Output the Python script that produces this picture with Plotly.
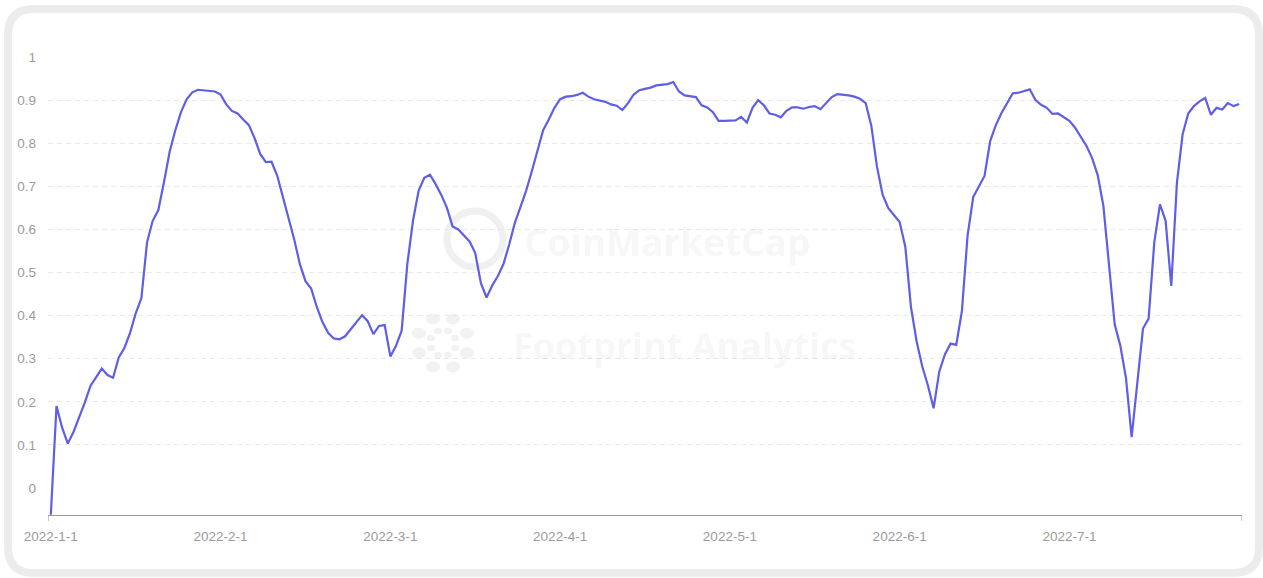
import math
import plotly.graph_objects as go

tick_labels = ["2022-1-1", "2022-2-1", "2022-3-1", "2022-4-1", "2022-5-1", "2022-6-1", "2022-7-1"]

values = [
    -0.062, 0.19, 0.14, 0.103, 0.13, 0.163, 0.198, 0.237, 0.256, 0.277,
    0.262, 0.256, 0.303, 0.325, 0.36, 0.405, 0.44, 0.57, 0.62, 0.645,
    0.71, 0.78, 0.83, 0.872, 0.902, 0.918, 0.924, 0.923, 0.922, 0.92,
    0.913, 0.89, 0.875, 0.869, 0.855, 0.842, 0.812, 0.775, 0.756, 0.757,
    0.725, 0.675, 0.622, 0.577, 0.52, 0.48, 0.463, 0.42, 0.385, 0.36,
    0.347, 0.345, 0.352, 0.368, 0.385, 0.401, 0.387, 0.357, 0.376, 0.378,
    0.305, 0.33, 0.365, 0.52, 0.62, 0.69, 0.72, 0.727, 0.705, 0.68,
    0.65, 0.607, 0.6, 0.587, 0.572, 0.545, 0.475, 0.442, 0.47, 0.492,
    0.52, 0.565, 0.615, 0.652, 0.69, 0.735, 0.78, 0.83, 0.855, 0.882,
    0.902, 0.908, 0.909, 0.912, 0.917, 0.908, 0.902, 0.899, 0.896, 0.89,
    0.887, 0.877, 0.893, 0.913, 0.923, 0.926, 0.929, 0.934, 0.936, 0.937,
    0.942, 0.92, 0.911, 0.909, 0.907, 0.888, 0.883, 0.872, 0.852, 0.852,
    0.853, 0.853, 0.861, 0.848, 0.882, 0.9, 0.888, 0.869, 0.866, 0.86,
    0.875, 0.883, 0.883, 0.88, 0.884, 0.886, 0.879, 0.892, 0.907, 0.914,
    0.913, 0.911, 0.908, 0.903, 0.893, 0.84, 0.745, 0.68, 0.649, 0.634,
    0.617, 0.56, 0.42, 0.34, 0.282, 0.238, 0.185, 0.27, 0.31, 0.335,
    0.332, 0.41, 0.585, 0.675, 0.698, 0.724, 0.805, 0.842, 0.87, 0.893,
    0.916, 0.917, 0.921, 0.925, 0.9, 0.889, 0.882, 0.868, 0.869, 0.86,
    0.852, 0.836, 0.816, 0.794, 0.766, 0.726, 0.655, 0.52, 0.38, 0.33,
    0.255, 0.118, 0.25, 0.37, 0.393, 0.57, 0.658, 0.62, 0.469, 0.708,
    0.82, 0.869, 0.886, 0.897, 0.905, 0.866, 0.882, 0.878, 0.893, 0.886,
    0.891,
]

label_every = 30
n = len(values)
xs = list(range(n))

W, H = 1263, 578
ML, MR, MT, MB = 48, 21, 57, 63
PW, PH = W - ML - MR, H - MT - MB
YMIN, YMAX = -0.0626, 1.0


def px_to_data(px, py):
    xd = -0.5 + (px - ML) / PW * n
    yd = YMAX - (py - MT) / PH * (YMAX - YMIN)
    return xd, yd


def px_to_paper(px, py):
    return (px - ML) / PW, 1 - (py - MT) / PH


fig = go.Figure()
fig.add_trace(go.Scatter(
    x=xs, y=values, mode="lines",
    line=dict(color="#5e5ee6", width=2.2),
    hoverinfo="skip", showlegend=False,
))

shapes = []
# card border (rounded rectangle)
x0, y0, x1, y1, r = 8, 9, 1259, 573, 26
p = lambda a, b: "%f %f" % px_to_paper(a, b)
path = (f"M {p(x0 + r, y0)} L {p(x1 - r, y0)} Q {p(x1, y0)} {p(x1, y0 + r)} "
        f"L {p(x1, y1 - r)} Q {p(x1, y1)} {p(x1 - r, y1)} L {p(x0 + r, y1)} "
        f"Q {p(x0, y1)} {p(x0, y1 - r)} L {p(x0, y0 + r)} Q {p(x0, y0)} {p(x0 + r, y0)} Z")
shapes.append(dict(type="path", xref="paper", yref="paper", path=path,
                   line=dict(color="#ececec", width=8), layer="below"))

# watermark logos
cx, cy = px_to_data(475, 239)
shapes.append(dict(type="circle", xref="x", yref="y", xsizemode="pixel", ysizemode="pixel",
                   xanchor=cx, yanchor=cy, x0=-28, x1=28, y0=-28, y1=28,
                   line=dict(color="#f0f0f0", width=7), layer="below"))
fx, fy = px_to_data(443, 343)
for k in range(8):
    a = k * math.pi / 4 + math.pi / 8
    for dist, rad in ((26, 7), (13, 4)):
        ox, oy = dist * math.cos(a), dist * math.sin(a)
        shapes.append(dict(type="circle", xref="x", yref="y", xsizemode="pixel", ysizemode="pixel",
                           xanchor=fx, yanchor=fy, x0=ox - rad, x1=ox + rad, y0=oy - rad * 0.8, y1=oy + rad * 0.8,
                           fillcolor="#f2f2f2", line=dict(width=0), layer="below"))

# small axis end ticks
for xe in (-0.5, n - 0.5):
    shapes.append(dict(type="line", xref="x", yref="paper", x0=xe, x1=xe, y0=0, y1=-6 / PH,
                       line=dict(color="#9a9a9a", width=1)))

wx, wy = px_to_paper(667, 241)
fx2, fy2 = px_to_paper(684, 345)
annotations = [
    dict(text="<b>CoinMarketCap</b>", x=wx, y=wy, xref="paper", yref="paper", showarrow=False,
         font=dict(family="Open Sans, Lato, sans-serif", size=37, color="rgba(0,0,0,0.055)")),
    dict(text="<b>Footprint Analytics</b>", x=fx2, y=fy2, xref="paper", yref="paper", showarrow=False,
         font=dict(family="Open Sans, Lato, sans-serif", size=36, color="rgba(0,0,0,0.055)")),
]

fig.update_layout(
    width=W, height=H,
    margin=dict(l=ML, r=MR, t=MT, b=MB, pad=0),
    paper_bgcolor="white", plot_bgcolor="white",
    font=dict(family="Liberation Sans, Arial, sans-serif", size=13, color="#9b9b9b"),
    shapes=shapes, annotations=annotations,
    xaxis=dict(
        range=[-0.5, n - 0.5],
        tickmode="array",
        tickvals=[i * label_every for i in range(len(tick_labels))],
        ticktext=tick_labels,
        showgrid=False, zeroline=False,
        showline=True, linecolor="#9a9a9a", linewidth=1,
        ticks="", ticklabelstandoff=9,
        tickfont=dict(size=13.5, color="#9b9b9b"),
    ),
    yaxis=dict(
        range=[YMIN, YMAX],
        tick0=0, dtick=0.1,
        showgrid=True, gridcolor="#e9e9e9", gridwidth=1, griddash="5px,4px",
        zeroline=True, zerolinecolor="white", zerolinewidth=1,
        showline=False, ticks="", ticklabelstandoff=11,
        tickfont=dict(size=13.5, color="#9b9b9b"),
    ),
)

fig.write_html("out.html", config={"displayModeBar": False},
               post_script="document.body.style.margin='0';")
